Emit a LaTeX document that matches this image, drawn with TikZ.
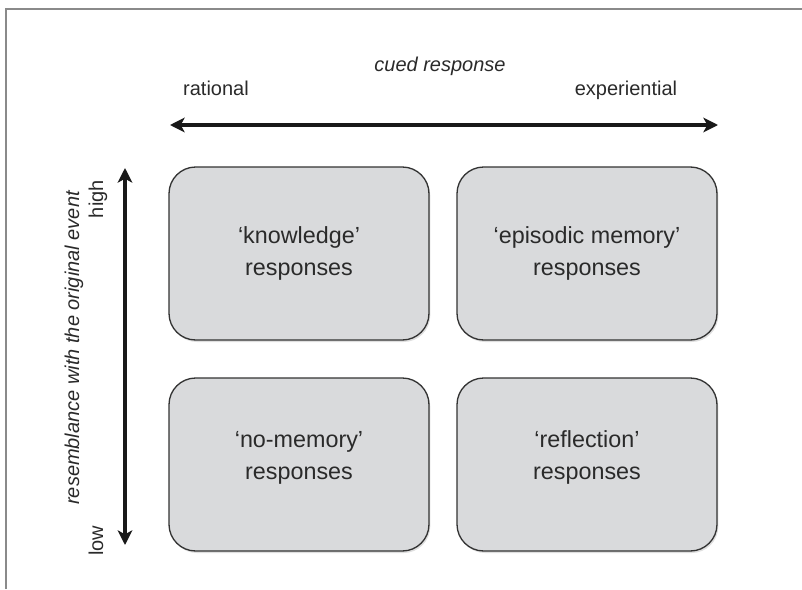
\documentclass[tikz,border=0pt]{standalone}
\usepackage{fontspec}
\setmainfont{Liberation Sans}
\usetikzlibrary{arrows.meta,shadows}
\definecolor{boxfill}{HTML}{D9DADC}
\definecolor{boxline}{HTML}{333333}
\definecolor{txt}{HTML}{2A2A2A}
\definecolor{frame}{HTML}{8A8A8A}
\newcommand{\lowstrut}{\rule[-14pt]{0pt}{0pt}}
\begin{document}
\begin{tikzpicture}[x=0.75pt,y=-0.75pt,
  quad/.style={draw=boxline,line width=1pt,fill=boxfill,rounded corners=20pt,
    minimum width=195pt,minimum height=129.75pt,align=center,text=txt,
    font=\fontsize{17.5}{24}\selectfont,
    drop shadow={opacity=0.25,shadow xshift=1pt,shadow yshift=-1.5pt}},
  lab/.style={text=txt,font=\fontsize{15}{18}\selectfont,inner sep=0pt},
  axis/.style={line width=3pt,draw=black!90,{Stealth[length=11pt,width=11pt,inset=3pt]}-{Stealth[length=11pt,width=11pt,inset=3pt]}}]
\useasboundingbox (0,0) rectangle (802,589);
\draw[frame,line width=0.8pt] (6,589) -- (6,9) -- (802,9);
% boxes
\node[quad] (kn) at (299,253.5) {‘knowledge’\\responses};
\node[quad] (ep) at (587,253.5) {‘episodic memory’\\responses};
\node[quad] (nm) at (299,464.5) {‘no-memory’\\responses\lowstrut};
\node[quad] (rf) at (587,464.5) {‘reflection’\\responses\lowstrut};
% axes
\coordinate (hl) at (170,125);
\coordinate (hr) at (718,125);
\coordinate (vt) at (125,168);
\coordinate (vb) at (125,545);
\draw[axis] (hl) -- (hr);
\draw[axis] (vt) -- (vb);
% labels
\node[lab,anchor=base] (cr) at (440,71) {\itshape cued response};
\node[lab,anchor=base] (ra) at (216,95) {rational};
\node[lab,anchor=base] (ex) at (626,95) {experiential};
\node[lab,rotate=90,anchor=base east] (hi) at (103,180) {high};
\node[lab,rotate=90,anchor=base west] (lo) at (103,556) {low};
\node[lab,rotate=90,anchor=base] (rs) at (79,348) {\itshape resemblance with the original event};
\end{tikzpicture}
\end{document}
